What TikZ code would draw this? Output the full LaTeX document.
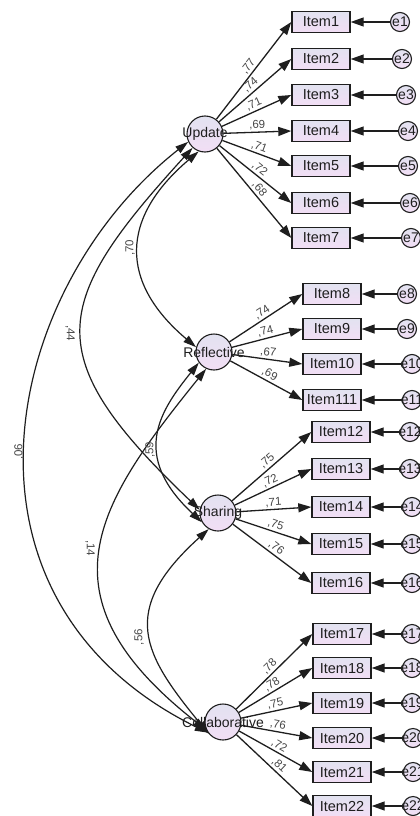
\documentclass[tikz,border=0pt]{standalone}
\usepackage{fontspec}
\setmainfont{Liberation Sans}
\usetikzlibrary{arrows.meta}
\definecolor{ink}{RGB}{30,30,30}
\definecolor{ftop}{RGB}{226,226,240}
\definecolor{fbot}{RGB}{242,222,245}
\definecolor{lblgray}{RGB}{70,70,70}
\begin{document}
\begin{tikzpicture}[x=1pt,y=-1pt,
  itembox/.style={draw=ink, line width=1.4pt, top color=ftop, bottom color=fbot, minimum width=58pt, minimum height=21pt, inner sep=0pt, font=\fontsize{14.5}{16}\selectfont, text=ink},
  latc/.style={circle, draw=ink, line width=1.1pt, top color=ftop, bottom color=fbot, minimum size=36pt, inner sep=0pt},
  latname/.style={font=\fontsize{14}{16}\selectfont, text=ink, inner sep=0pt},
  errc/.style={circle, draw=ink, line width=1.1pt, top color=ftop, bottom color=fbot, minimum size=19pt, inner sep=0pt},
  errname/.style={font=\fontsize{14}{16}\selectfont, text=ink, inner sep=0pt},
  ldarrow/.style={draw=ink, line width=1.3pt, -{Triangle[length=13pt,width=9pt]}},
  covarrow/.style={draw=ink, line width=1.2pt, {Triangle[length=13pt,width=8pt]}-{Triangle[length=13pt,width=8pt]}},
  ldlbl/.style={font=\fontsize{11.5}{13}\selectfont, text=lblgray, sloped, above, pos=0.5, inner sep=1.5pt},
  covlbl/.style={font=\fontsize{11.5}{13}\selectfont, text=lblgray, inner sep=0pt}
]
\useasboundingbox (0,0) rectangle (420,816);
\clip (0,0) rectangle (420,816);

% latent variables
\node[latc] (U) at (205,134) {};
\node[latc] (R) at (214,352) {};
\node[latc] (S) at (218,513) {};
\node[latc] (C) at (223,722) {};

% items
\node[itembox] (I1) at (321,22) {Item1};
\node[itembox] (I2) at (321,59) {Item2};
\node[itembox] (I3) at (321,95) {Item3};
\node[itembox] (I4) at (321,131) {Item4};
\node[itembox] (I5) at (321,166) {Item5};
\node[itembox] (I6) at (321,203) {Item6};
\node[itembox] (I7) at (321,238) {Item7};
\node[itembox] (I8) at (332,294) {Item8};
\node[itembox] (I9) at (332,329) {Item9};
\node[itembox] (I10) at (332,364) {Item10};
\node[itembox] (I11) at (332,400) {Item111};
\node[itembox] (I12) at (341,432) {Item12};
\node[itembox] (I13) at (341,469) {Item13};
\node[itembox] (I14) at (341,507) {Item14};
\node[itembox] (I15) at (341,544) {Item15};
\node[itembox] (I16) at (341,583) {Item16};
\node[itembox] (I17) at (342,634) {Item17};
\node[itembox] (I18) at (342,668) {Item18};
\node[itembox] (I19) at (342,703) {Item19};
\node[itembox] (I20) at (342,738) {Item20};
\node[itembox] (I21) at (342,772) {Item21};
\node[itembox] (I22) at (342,806) {Item22};

% error terms
\foreach \i/\x/\y in {1/400/22, 2/402/59, 3/406/95, 4/408/131, 5/408/166, 6/410/203, 7/411/238,
  8/407/294, 9/407/329, 10/412/364, 11/412/400,
  12/410/432, 13/410/469, 14/412/507, 15/412/544, 16/412/583,
  17/412/634, 18/412/668, 19/412/703, 20/413/738, 21/413/772, 22/413/806}{
  \node[errc] (e\i) at (\x,\y) {};
  \draw[ldarrow] (e\i) -- (I\i);
  \node[errname] at (e\i) {e\i};
}

% loadings
\draw[ldarrow] (U) -- node[ldlbl]{,77} (I1.west);
\draw[ldarrow] (U) -- node[ldlbl]{,74} (I2.west);
\draw[ldarrow] (U) -- node[ldlbl]{,71} (I3.west);
\draw[ldarrow] (U) -- node[ldlbl]{,69} (I4.west);
\draw[ldarrow] (U) -- node[ldlbl]{,71} (I5.west);
\draw[ldarrow] (U) -- node[ldlbl]{,72} (I6.west);
\draw[ldarrow] (U) -- node[ldlbl]{,68} (I7.west);
\draw[ldarrow] (R) -- node[ldlbl]{,74} (I8.west);
\draw[ldarrow] (R) -- node[ldlbl]{,74} (I9.west);
\draw[ldarrow] (R) -- node[ldlbl]{,67} (I10.west);
\draw[ldarrow] (R) -- node[ldlbl]{,69} (I11.west);
\draw[ldarrow] (S) -- node[ldlbl]{,75} (I12.west);
\draw[ldarrow] (S) -- node[ldlbl]{,72} (I13.west);
\draw[ldarrow] (S) -- node[ldlbl]{,71} (I14.west);
\draw[ldarrow] (S) -- node[ldlbl]{,75} (I15.west);
\draw[ldarrow] (S) -- node[ldlbl]{,76} (I16.west);
\draw[ldarrow] (C) -- node[ldlbl]{,78} (I17.west);
\draw[ldarrow] (C) -- node[ldlbl]{,78} (I18.west);
\draw[ldarrow] (C) -- node[ldlbl]{,75} (I19.west);
\draw[ldarrow] (C) -- node[ldlbl]{,76} (I20.west);
\draw[ldarrow] (C) -- node[ldlbl]{,72} (I21.west);
\draw[ldarrow] (C) -- node[ldlbl]{,81} (I22.west);

% covariances
\draw[covarrow] (U.250) .. controls (120,218) and (119,282) .. (R.165);
\draw[covarrow] (U.228) .. controls (50,304) and (38,356) .. (S.170);
\draw[covarrow] (U.205) .. controls (0,290) and (-62,600) .. (C.215);
\draw[covarrow] (R.215) .. controls (160,411) and (130,455) .. (S.210);
\draw[covarrow] (R.245) .. controls (97,504) and (35,596) .. (C.205);
\draw[covarrow] (S.240) .. controls (118,611) and (143,654) .. (C.220);

\node[covlbl, rotate=90] at (130,248) {,70};
\node[covlbl, rotate=-90] at (70,333) {,44};
\node[covlbl, rotate=90] at (19,452) {,06};
\node[covlbl, rotate=90] at (150,450) {,59};
\node[covlbl, rotate=-90] at (90,548) {,14};
\node[covlbl, rotate=90] at (139,637) {,56};

% latent names
\node[latname] at (U) {Update};
\node[latname] at (R) {Reflective};
\node[latname] at (S) {Sharing};
\node[latname] at (C) {Collaborative};
\end{tikzpicture}
\end{document}
